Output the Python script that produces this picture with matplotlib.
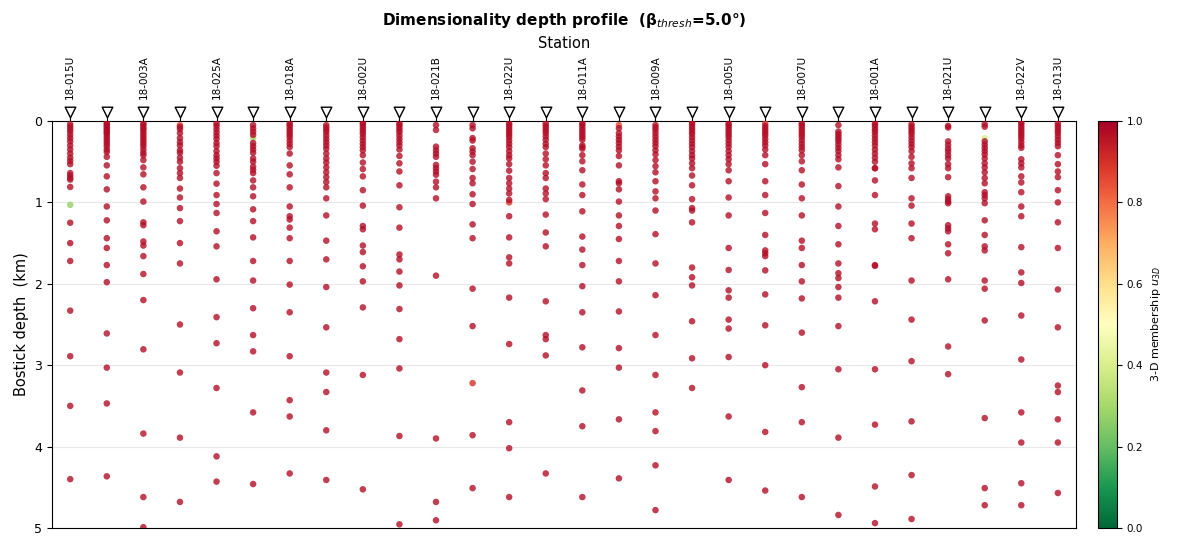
import matplotlib
matplotlib.use("Agg")
import matplotlib.pyplot as plt
import numpy as np

stations = ["18-015U", "s01", "18-003A", "s03", "18-025A", "s05", "18-018A", "s07",
            "18-002U", "s09", "18-021B", "s11", "18-022U", "s13", "18-011A", "s15",
            "18-009A", "s17", "18-005U", "s19", "18-007U", "s21", "18-001A", "s23",
            "18-021U", "s25", "18-022V", "18-013U"]
shown_labels = [0, 2, 4, 6, 8, 10, 12, 14, 16, 18, 20, 22, 24, 26, 27]

# Bostick depths (km) of points with 3-D membership ~1 at each station
depths = [
    [0.04, 0.07, 0.1, 0.13, 0.17, 0.21, 0.25, 0.3, 0.35, 0.4, 0.45, 0.49, 0.53, 0.64, 0.67, 0.7, 0.72, 0.81,
     1.25, 1.5, 1.72, 2.33, 2.89, 3.5, 4.4],
    [0.02, 0.04, 0.06, 0.08, 0.1, 0.12, 0.14, 0.16, 0.19, 0.22, 0.25, 0.28, 0.31, 0.35, 0.38, 0.44, 0.545, 0.68,
     0.84, 1.05, 1.22, 1.44, 1.56, 1.77, 1.98, 2.61, 3.03, 3.47, 4.365],
    [0.03, 0.05, 0.08, 0.1, 0.13, 0.16, 0.19, 0.22, 0.25, 0.28, 0.31, 0.35, 0.39, 0.42, 0.48, 0.57, 0.655, 0.815,
     0.99, 1.245, 1.28, 1.48, 1.53, 1.66, 1.88, 2.2, 2.805, 3.84, 4.62, 4.99],
    [0.07, 0.1, 0.15, 0.21, 0.26, 0.3, 0.36, 0.39, 0.45, 0.5, 0.58, 0.64, 0.7, 0.83, 0.94, 1.07, 1.23, 1.5,
     1.75, 2.5, 3.09, 3.89, 4.68],
    [0.03, 0.06, 0.1, 0.14, 0.18, 0.22, 0.27, 0.31, 0.37, 0.42, 0.46, 0.5, 0.55, 0.64, 0.77, 0.91, 1.02, 1.13,
     1.355, 1.54, 1.945, 2.41, 2.73, 3.28, 4.12, 4.43],
    [0.05, 0.09, 0.13, 0.17, 0.27, 0.31, 0.35, 0.39, 0.46, 0.5, 0.56, 0.6, 0.64, 0.73, 0.815, 0.925, 1.085, 1.23,
     1.43, 1.72, 1.96, 2.3, 2.63, 2.83, 3.58, 4.46],
    [0.03, 0.05, 0.08, 0.11, 0.14, 0.17, 0.2, 0.24, 0.28, 0.32, 0.4, 0.545, 0.655, 0.815, 1.05, 1.17, 1.21, 1.31,
     1.44, 1.72, 2.01, 2.35, 2.89, 3.43, 3.63, 4.33],
    [0.05, 0.08, 0.11, 0.14, 0.18, 0.22, 0.26, 0.3, 0.34, 0.4, 0.46, 0.51, 0.57, 0.63, 0.69, 0.75, 0.815, 0.95,
     1.16, 1.47, 1.7, 2.04, 2.535, 3.09, 3.33, 3.8, 4.41],
    [0.02, 0.04, 0.07, 0.1, 0.13, 0.16, 0.2, 0.24, 0.28, 0.32, 0.36, 0.42, 0.51, 0.59, 0.68, 0.85, 1.04, 1.29,
     1.33, 1.53, 1.61, 1.785, 1.97, 2.29, 3.12, 4.525],
    [0.03, 0.05, 0.08, 0.11, 0.14, 0.18, 0.22, 0.26, 0.3, 0.35, 0.43, 0.52, 0.62, 0.79, 1.06, 1.31, 1.64, 1.7,
     1.85, 2.02, 2.31, 2.68, 3.04, 3.87, 4.955],
    [0.05, 0.11, 0.315, 0.36, 0.4, 0.44, 0.54, 0.58, 0.62, 0.66, 0.745, 0.815, 0.95, 1.9, 3.9, 4.68, 4.905],
    [0.05, 0.09, 0.21, 0.24, 0.335, 0.375, 0.42, 0.5, 0.59, 0.7, 0.765, 0.9, 1.02, 1.27, 1.44, 2.06, 2.52,
     3.86, 4.51],
    [0.03, 0.05, 0.08, 0.11, 0.14, 0.17, 0.2, 0.24, 0.28, 0.32, 0.37, 0.42, 0.46, 0.53, 0.61, 0.7, 0.765, 0.83,
     0.89, 0.97, 1.17, 1.43, 1.675, 1.75, 2.17, 2.74, 3.7, 4.02, 4.62],
    [0.03, 0.06, 0.09, 0.12, 0.15, 0.19, 0.23, 0.28, 0.32, 0.4, 0.47, 0.545, 0.64, 0.7, 0.83, 0.89, 0.96, 1.15,
     1.37, 1.54, 2.215, 2.63, 2.68, 2.88, 4.33],
    [0.03, 0.05, 0.08, 0.11, 0.14, 0.17, 0.2, 0.23, 0.3, 0.34, 0.42, 0.495, 0.605, 0.78, 0.91, 1.11, 1.42, 1.58,
     1.77, 2.03, 2.35, 2.78, 3.31, 3.75, 4.62],
    [0.09, 0.15, 0.19, 0.23, 0.27, 0.315, 0.36, 0.43, 0.545, 0.74, 0.765, 0.84, 0.99, 1.16, 1.29, 1.45, 1.72,
     1.97, 2.34, 2.79, 3.03, 3.665, 4.39],
    [0.05, 0.08, 0.11, 0.15, 0.19, 0.23, 0.27, 0.31, 0.36, 0.41, 0.48, 0.555, 0.63, 0.74, 0.865, 0.95, 1.1,
     1.39, 1.75, 2.14, 2.63, 3.12, 3.58, 3.81, 4.23, 4.78],
    [0.02, 0.04, 0.07, 0.1, 0.13, 0.16, 0.2, 0.24, 0.28, 0.32, 0.37, 0.42, 0.46, 0.52, 0.58, 0.67, 0.79, 0.96,
     1.07, 1.1, 1.245, 1.8, 1.92, 2.02, 2.46, 2.915, 3.28],
    [0.03, 0.05, 0.08, 0.11, 0.14, 0.17, 0.2, 0.24, 0.28, 0.32, 0.37, 0.42, 0.47, 0.53, 0.605, 0.74, 0.94, 1.16,
     1.56, 1.83, 2.08, 2.17, 2.44, 2.55, 2.9, 3.63, 4.41],
    [0.06, 0.09, 0.12, 0.15, 0.18, 0.22, 0.26, 0.3, 0.35, 0.42, 0.53, 0.74, 0.91, 1.13, 1.4, 1.59, 1.625, 1.66,
     1.835, 2.13, 2.51, 3.0, 3.82, 4.54],
    [0.03, 0.05, 0.08, 0.11, 0.14, 0.17, 0.2, 0.24, 0.28, 0.32, 0.36, 0.42, 0.495, 0.605, 0.78, 0.95, 1.16,
     1.47, 1.56, 1.77, 1.97, 2.18, 2.6, 3.27, 3.7, 4.62],
    [0.05, 0.13, 0.16, 0.19, 0.22, 0.25, 0.29, 0.33, 0.37, 0.42, 0.47, 0.57, 0.8, 1.05, 1.29, 1.515, 1.75, 1.87,
     1.93, 2.04, 2.17, 2.52, 3.05, 3.89, 4.84],
    [0.03, 0.05, 0.08, 0.11, 0.14, 0.18, 0.22, 0.26, 0.3, 0.35, 0.4, 0.45, 0.5, 0.58, 0.58, 0.73, 0.91, 1.26,
     1.33, 1.77, 1.78, 2.215, 3.05, 3.73, 4.49, 4.94],
    [0.04, 0.07, 0.1, 0.13, 0.16, 0.2, 0.24, 0.28, 0.32, 0.37, 0.44, 0.52, 0.58, 0.7, 0.95, 1.04, 1.26, 1.44,
     1.96, 2.44, 2.95, 3.69, 4.35, 4.89],
    [0.06, 0.08, 0.25, 0.295, 0.34, 0.375, 0.42, 0.46, 0.53, 0.58, 0.69, 0.925, 0.96, 0.99, 1.01, 1.28, 1.32,
     1.355, 1.515, 1.625, 1.945, 2.77, 3.11],
    [0.04, 0.07, 0.25, 0.29, 0.33, 0.37, 0.41, 0.46, 0.52, 0.57, 0.63, 0.7, 0.765, 0.875, 0.91, 0.95, 1.01,
     1.22, 1.4, 1.54, 1.59, 1.96, 2.06, 2.45, 3.65, 4.51, 4.72],
    [0.02, 0.04, 0.07, 0.1, 0.13, 0.16, 0.19, 0.22, 0.26, 0.3, 0.33, 0.47, 0.52, 0.57, 0.68, 0.755, 0.875,
     1.05, 1.17, 1.55, 1.86, 1.99, 2.39, 2.93, 3.58, 3.95, 4.45, 4.72],
    [0.03, 0.06, 0.09, 0.12, 0.15, 0.19, 0.23, 0.27, 0.31, 0.42, 0.53, 0.62, 0.69, 0.85, 1.0, 1.245, 1.56,
     2.07, 2.535, 3.25, 3.33, 3.665, 3.95, 4.57],
]
high_u3d = 0.97

# points whose 3-D membership is noticeably lower
low_station = [0, 5, 3, 11, 12, 15, 19, 14, 25]
low_depth = [1.03, 0.21, 0.05, 3.22, 1.0, 0.05, 0.03, 0.32, 0.21]
low_u3d = [0.27, 0.3, 0.84, 0.9, 0.88, 0.86, 0.88, 0.9, 0.4]

xs, ys, cs = list(low_station), list(low_depth), list(low_u3d)
for i, d in enumerate(depths):
    xs += [i] * len(d)
    ys += d
    cs += [high_u3d] * len(d)

fig = plt.figure(figsize=(11.8, 5.5), dpi=100)
ax = fig.add_axes([0.044, 0.04, 0.868, 0.74])
cax = fig.add_axes([0.9305, 0.04, 0.016, 0.74])

sc = ax.scatter(xs, ys, c=cs, cmap="RdYlGn_r", vmin=0, vmax=1, s=22, alpha=0.8,
                edgecolors="none", zorder=3)

n = len(stations)
ax.scatter(np.arange(n), [-0.11] * n, marker="v", s=58, facecolor="white",
           edgecolor="black", linewidths=1.0, clip_on=False, zorder=5)

ax.set_xlim(-0.5, n - 0.5)
ax.set_ylim(5, 0)
ax.set_yticks([0, 1, 2, 3, 4, 5])
ax.yaxis.grid(True, color="#e8e8e8", linewidth=0.8)
ax.set_axisbelow(True)
ax.xaxis.tick_top()
ax.xaxis.set_label_position("top")
ax.set_xticks(np.arange(n))
ax.set_xticklabels([stations[i] if i in shown_labels else "" for i in range(n)],
                   rotation=90, fontsize=7.5)
ax.tick_params(axis="x", length=3, pad=13)
ax.tick_params(axis="y", labelsize=9)
ax.set_xlabel("Station", fontsize=10.5, labelpad=4.5)
ax.set_ylabel("Bostick depth  (km)", fontsize=10.5)
ax.set_title("Dimensionality depth profile  (β$_{thresh}$=5.0°)", fontsize=11,
             fontweight="bold", pad=8)

cb = fig.colorbar(sc, cax=cax)
cb.solids.set_alpha(1)
cb.set_ticks([0, 0.2, 0.4, 0.6, 0.8, 1.0])
cb.ax.tick_params(labelsize=7.5)
cb.set_label("3-D membership $u_{3D}$", fontsize=8)
cb.outline.set_linewidth(0.8)

fig.savefig("out.png", dpi=100)
